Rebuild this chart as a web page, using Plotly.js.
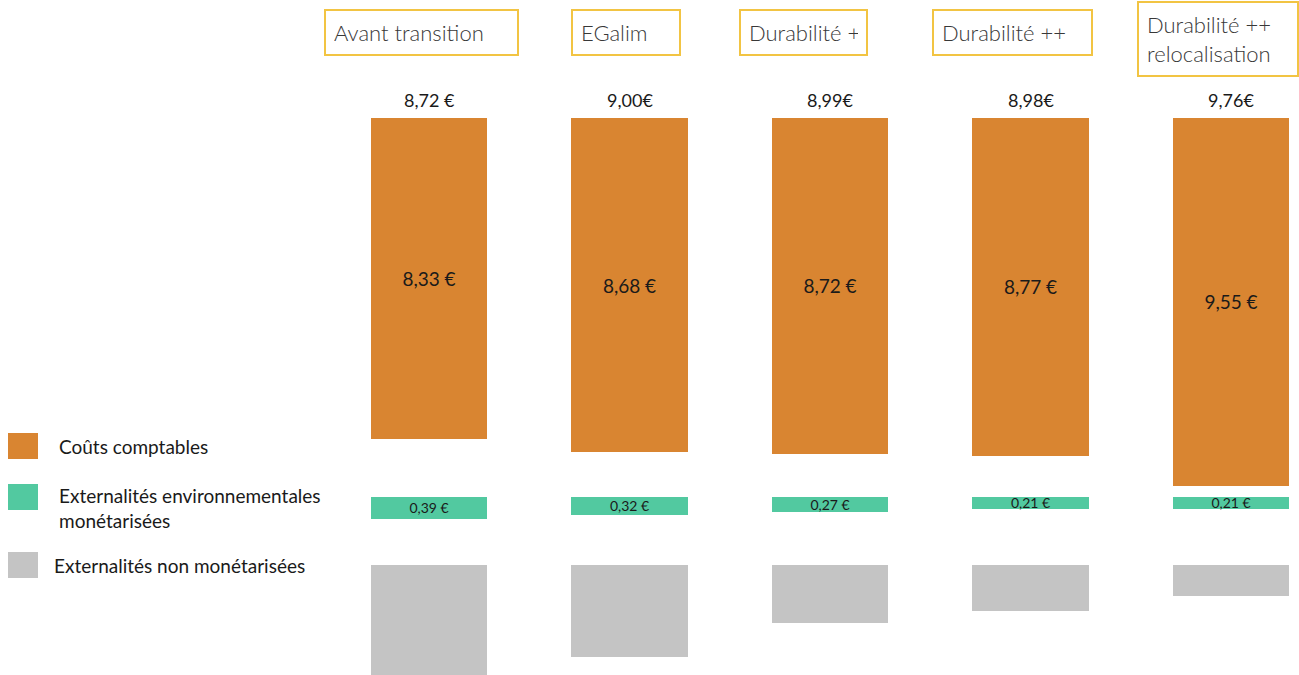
<!DOCTYPE html>
<html>
<head>
<meta charset="utf-8">
<script src="https://cdn.plot.ly/plotly-3.0.1.min.js"></script>
<style>html,body{margin:0;padding:0;background:#fff;}#chart{width:1299px;height:675px;}</style>
</head>
<body>
<div id="chart"></div>
<script>
// ---- Data ----
const scenarios = ["Avant transition", "EGalim", "Durabilité +", "Durabilité ++", "Durabilité ++<br>relocalisation"];
const coutsComptables = [8.33, 8.68, 8.72, 8.77, 9.55];
const coutsLabels = ["8,33 €", "8,68 €", "8,72 €", "8,77 €", "9,55 €"];
const externalitesEnv = [0.39, 0.32, 0.27, 0.21, 0.21];
const externalitesLabels = ["0,39 €", "0,32 €", "0,27 €", "0,21 €", "0,21 €"];
const totalLabels = ["8,72 €", "9,00€", "8,99€", "8,98€", "9,76€"];
// non-monetised externalities: indicative magnitude only (arbitrary units)
const externalitesNonMon = [118, 92, 58, 46, 31];
const legendLabels = ["Coûts comptables", "Externalités environnementales<br>monétarisées", "Externalités non monétarisées"];

// ---- Style ----
const ORANGE = "#D98531", GREEN = "#52C9A0", GREY = "#C4C4C4", GOLD = "#F2C443";
const FONT = "Lato, 'Open Sans', sans-serif";
const H = 675, W = 1299;
const py = p => 1 - p / H;   // pixel row -> paper fraction
const cats = scenarios.map((s, i) => i);
const headerWidths = [175, 90, 109, 141, 142];   // box inner widths (style)
const headerShift = [-8, -4, -27, -18, -13];      // fine offsets of the boxes (style)

const common = {type: "bar", x: cats, xaxis: "x", width: 0.58, hoverinfo: "skip",
  textposition: "inside", insidetextanchor: "middle", constraintext: "none", cliponaxis: false, textangle: 0};

const traces = [
  Object.assign({}, common, {y: coutsComptables, yaxis: "y", marker: {color: ORANGE, line: {width: 0}},
    text: coutsLabels, insidetextfont: {family: FONT, size: 19, color: "#1a1a1a"}}),
  Object.assign({}, common, {y: externalitesEnv, yaxis: "y2", marker: {color: GREEN, line: {width: 0}},
    text: externalitesLabels, insidetextfont: {family: FONT, size: 14, color: "#1a1a1a"}}),
  Object.assign({}, common, {y: externalitesNonMon, yaxis: "y3", marker: {color: GREY, line: {width: 0}},
    text: externalitesNonMon.map(() => ""), cliponaxis: true})
];

const hiddenAxis = {visible: false, showgrid: false, zeroline: false, fixedrange: true};
const annotations = [];
const shapes = [];

scenarios.forEach((s, i) => {
  const twoLines = s.includes("<br>");
  annotations.push({xref: "x", yref: "paper", x: i, xshift: headerShift[i], y: py(twoLines ? 39 : 32), yanchor: "middle", xanchor: "center",
    text: s, showarrow: false, align: "left", width: headerWidths[i], font: {family: FONT, size: 22, color: "#383838", weight: 300},
    bordercolor: GOLD, borderwidth: 2, borderpad: 8, bgcolor: "#fff"});
  annotations.push({xref: "x", yref: "paper", x: i, y: py(100), yanchor: "middle", xanchor: "center",
    text: totalLabels[i], showarrow: false, font: {family: FONT, size: 18, color: "#1a1a1a"}});
});

const legColors = [ORANGE, GREEN, GREY];
const legTop = [433, 484, 552];
const legTextY = [446, 508, 565];
legendLabels.forEach((t, i) => {
  shapes.push({type: "rect", xref: "paper", yref: "paper", x0: 8 / W, x1: 38 / W, y0: py(legTop[i] + 26), y1: py(legTop[i]),
    fillcolor: legColors[i], line: {width: 0}});
  annotations.push({xref: "paper", yref: "paper", x: (i === 2 ? 52 : 57) / W, y: py(legTextY[i]), xanchor: "left", yanchor: "middle",
    text: t, align: "left", showarrow: false, font: {family: FONT, size: 19, color: "#1a1a1a"}});
});

const pxPerUnitX = 200.5;
const layout = {
  width: W, height: H, margin: {l: 0, r: 0, t: 0, b: 0}, showlegend: false,
  paper_bgcolor: "#fff", plot_bgcolor: "rgba(0,0,0,0)",
  xaxis: Object.assign({}, hiddenAxis, {type: "linear", range: [-429 / pxPerUnitX, (W - 429) / pxPerUnitX], domain: [0, 1]}),
  yaxis: Object.assign({}, hiddenAxis, {domain: [py(490), py(118)], range: [372 / 38.5, 0]}),
  yaxis2: Object.assign({}, hiddenAxis, {domain: [py(530), py(497)], range: [33 / 56, 0]}),
  yaxis3: Object.assign({}, hiddenAxis, {domain: [0, py(565)], range: [110, 0]}),
  annotations: annotations, shapes: shapes, bargap: 0
};

Plotly.newPlot("chart", traces, layout, {staticPlot: true, displayModeBar: false});
</script>
</body>
</html>
